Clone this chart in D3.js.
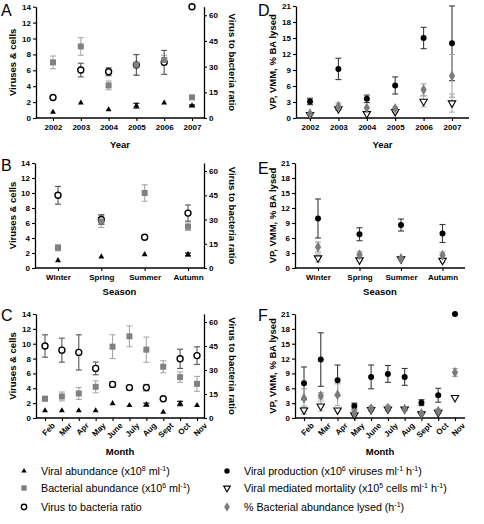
<!DOCTYPE html>
<html><head><meta charset="utf-8">
<script src="https://cdn.jsdelivr.net/npm/d3@7"></script>
<style>
body{margin:0;background:#fff}
svg{display:block}
text{font-family:"Liberation Sans",Arial,Helvetica,sans-serif}
</style>
</head><body>
<svg id="c" width="484" height="524"></svg>
<script>
// ---------- categories ----------
const yearCats = ["2002","2003","2004","2005","2006","2007"];
const seasonCats = ["Winter","Spring","Summer","Autumn"];
const monthCats = ["Feb","Mar","Apr","May","June","July","Aug","Sept","Oct","Nov"];

// ---------- tick labels ----------
const leftTicksAbund = [0,2,4,6,8,10,12,14];
const rightTicksRatio = [0,15,30,45,60];
const leftTicksRate = [0,3,6,9,12,15,18,21];

// ---------- Panel A (years) ----------
const yrViralAbund = [0.75,1.9,1.05,1.55,1.9,1.55];
const yrViralAbundErr = [0,0,0,0.3,0,0.1];
const yrBactAbund = [7.0,9.0,4.1,6.7,7.3,2.6];
const yrBactAbundErr = [0.8,1.1,0.55,1.3,0.6,0];
const yrRatio = [12,28,27,31,32.5,65];
const yrRatioErr = [0,4,2.3,6,7,0];

// ---------- Panel D (years) ----------
const yrVP = [3.1,9.2,3.6,6.1,15.0,14.0];
const yrVPErr = [0.6,2.0,0.7,1.6,2.0,7.0];
const yrVMM = [0.6,1.7,0.8,1.2,3.1,2.8];
const yrVMMErr = [0,0.3,0,0.2,1.0,1.7];
const yrBAL = [0.8,2.2,1.9,1.8,5.3,7.9];
const yrBALErr = [0.2,0.6,0,0.3,1.1,4.0];

// ---------- Panel B (seasons) ----------
const ssViralAbund = [1.0,1.5,1.8,1.8];
const ssViralAbundErr = [0,0,0,0.2];
const ssBactAbund = [2.7,6.2,10.0,5.5];
const ssBactAbundErr = [0.4,0.8,1.1,0.5];
const ssRatio = [45,30,19,34];
const ssRatioErr = [5.5,3,1,5];

// ---------- Panel E (seasons) ----------
const ssVP = [9.9,6.75,8.6,6.9];
const ssVPErr = [3.9,1.3,1.2,1.8];
const ssVMM = [2.0,1.6,1.8,1.5];
const ssVMMErr = [0.8,0.3,0.2,0.4];
const ssBAL = [4.2,2.65,1.9,2.55];
const ssBALErr = [1.0,0.6,0.2,0.6];

// ---------- Panel C (months) ----------
const moViralAbund = [1.0,1.0,1.0,1.0,1.95,1.7,1.8,0.8,1.95,1.7];
const moViralAbundErr = [0,0,0,0,0,0,0.2,0,0.3,0];
const moBactAbund = [2.6,2.9,3.3,4.2,9.6,11.0,9.2,6.9,5.5,4.6];
const moBactAbundErr = [0.3,0.6,0.8,0.8,1.6,1.4,1.7,0.8,0.7,1.0];
const moRatio = [45,42.4,41,31,21,19,19,12,37,39];
const moRatioErr = [7,7.5,11,4,1.5,1.5,2,0,6,5.5];

// ---------- Panel F (months) ----------
const moVP = [7.0,11.8,7.6,2.4,8.3,8.9,8.3,3.1,4.6,21.0];
const moVPErr = [3.3,5.4,3.1,0.6,2.4,1.7,1.7,0.6,1.4,0];
const moVMM = [1.6,2.4,1.6,0.6,1.7,1.8,1.8,0.8,1.1,4.1];
const moVMMErr = [0.8,1.0,0.3,0.8,0.3,0.3,0.2,0,0.2,0];
const moBAL = [4.0,4.5,4.7,1.1,1.9,2.0,1.8,0.9,1.4,9.2];
const moBALErr = [1.9,0.6,2.2,0.5,0.5,0.6,0.3,0.2,0.4,0.8];

// ---------- legend ----------
const legendLeft = [
  {mark:"tri", parts:[["Viral abundance (x10",0],["8",1],[" ml",0],["-1",1],[")",0]]},
  {mark:"sq",  parts:[["Bacterial abundance (x10",0],["6",1],[" ml",0],["-1",1],[")",0]]},
  {mark:"circ",parts:[["Virus to bacteria ratio",0]]}
];
const legendRight = [
  {mark:"dot", parts:[["Viral production (x10",0],["6",1],[" viruses ml",0],["-1",1],[" h",0],["-1",1],[")",0]]},
  {mark:"tdown",parts:[["Viral mediated mortality (x10",0],["5",1],[" cells ml",0],["-1",1],[" h",0],["-1",1],[")",0]]},
  {mark:"dia", parts:[["% Bacterial abundance lysed (h",0],["-1",1],[")",0]]}
];

// ---------- styles ----------
const markStyle = {
  tri:  {err:"#000"},
  sq:   {err:"#a8a8a8"},
  circ: {err:"#555"},
  dot:  {err:"#3a3a3a"},
  tdown:{err:"#b0b0b0"},
  dia:  {err:"#a8a8a8"}
};

const svg = d3.select("#c");

function drawMark(g, type, cx, cy, scale) {
  const k = scale || 1;
  if (type === "tri") {
    g.append("path").attr("d", d3.symbol().type(d3.symbolTriangle).size(15 * k)())
      .attr("transform", `translate(${cx},${cy})`).attr("fill", "#000");
  } else if (type === "sq") {
    g.append("path").attr("d", d3.symbol().type(d3.symbolSquare).size(36 * k)())
      .attr("transform", `translate(${cx},${cy})`).attr("fill", "#808080");
  } else if (type === "circ") {
    g.append("circle").attr("cx", cx).attr("cy", cy).attr("r", 3.0 * Math.sqrt(k))
      .attr("fill", "#fff").attr("stroke", "#000").attr("stroke-width", 1.4);
  } else if (type === "dot") {
    g.append("circle").attr("cx", cx).attr("cy", cy).attr("r", 3 * Math.sqrt(k))
      .attr("fill", "#000");
  } else if (type === "tdown") {
    g.append("path").attr("d", d3.symbol().type(d3.symbolTriangle).size(24 * k)())
      .attr("transform", `translate(${cx},${cy}) rotate(180)`)
      .attr("fill", "#fff").attr("stroke", "#000").attr("stroke-width", 1.1);
  } else if (type === "dia") {
    g.append("path").attr("d", d3.symbol().type(d3.symbolDiamond).size(34 * k)())
      .attr("transform", `translate(${cx},${cy})`).attr("fill", "#7c7c7c");
  }
}

function drawPanel(o) {
  const g = svg.append("g");
  const x = d3.scalePoint().domain(o.cats).range([o.p0, o.p1]);
  const yL = d3.scaleLinear().domain([0, o.leftMax]).range([o.yBot, o.yTop]);
  const yR = o.rightMax ? d3.scaleLinear().domain([0, o.rightMax]).range([o.yBot, o.yTop]) : null;

  const axL = g.append("g").attr("transform", `translate(${o.x0},0)`)
    .call(d3.axisLeft(yL).tickValues(o.leftTicks).tickSize(3).tickSizeOuter(0).tickPadding(2));
  let axR = null;
  if (yR) {
    axR = g.append("g").attr("transform", `translate(${o.x1},0)`)
      .call(d3.axisRight(yR).tickValues(o.rightTicks).tickSize(3).tickSizeOuter(0).tickPadding(2));
  }
  const axX = g.append("g").attr("transform", `translate(0,${o.yBot})`)
    .call(d3.axisBottom(x).tickSize(3).tickSizeOuter(0).tickPadding(3));
  axX.select(".domain").remove();
  g.append("line").attr("x1", o.x0).attr("x2", o.x1).attr("y1", o.yBot).attr("y2", o.yBot)
    .attr("stroke", "#000").attr("stroke-width", 1.3);

  [axL, axR, axX].forEach(a => {
    if (!a) return;
    a.selectAll(".domain").attr("stroke", "#000").attr("stroke-width", 1.3);
    a.selectAll(".tick line").attr("stroke", "#000").attr("stroke-width", 1.1);
    a.selectAll("text").attr("font-size", "8px").attr("font-weight", "bold")
      .attr("font-family", '"Liberation Sans",Arial,sans-serif').attr("fill", "#000");
  });
  if (o.rotated) {
    axX.selectAll("text").attr("text-anchor", "end")
      .attr("transform", "translate(3,1) rotate(-45)").attr("dy", "0.5em").attr("dx", "0");
  }

  g.append("text").attr("x", o.lx).attr("y", o.ly).attr("font-size", "16px").text(o.letter);

  const cy = (o.yTop + o.yBot) / 2;
  g.append("text").attr("transform", `translate(${o.ltx},${cy}) rotate(-90)`)
    .attr("text-anchor", "middle").attr("font-size", "9.5px").attr("font-weight", "bold")
    .text(o.leftTitle);
  if (o.rightTitle) {
    g.append("text").attr("transform", `translate(${o.rtx},${cy}) rotate(90)`)
      .attr("text-anchor", "middle").attr("font-size", "9.5px").attr("font-weight", "bold")
      .text(o.rightTitle);
  }
  g.append("text").attr("x", (o.x0 + o.x1) / 2).attr("y", o.xty)
    .attr("text-anchor", "middle").attr("font-size", "9.5px").attr("font-weight", "bold")
    .text(o.xTitle);

  const eg = g.append("g");
  o.series.forEach(s => {
    const y = s.axis === "R" ? yR : yL;
    s.vals.forEach((v, i) => {
      const e = s.errs[i];
      if (!e) return;
      const cx = x(o.cats[i]);
      const lo = Math.max(0, v - e), hi = v + e;
      const col = markStyle[s.mark].err;
      eg.append("line").attr("x1", cx).attr("x2", cx).attr("y1", y(lo)).attr("y2", y(hi))
        .attr("stroke", col).attr("stroke-width", 1.1);
      [hi, lo].forEach(val => {
        if (val <= 0) return;
        eg.append("line").attr("x1", cx - 3).attr("x2", cx + 3).attr("y1", y(val)).attr("y2", y(val))
          .attr("stroke", col).attr("stroke-width", 1.1);
      });
    });
  });
  const mg = g.append("g");
  o.drawOrder.forEach(idx => {
    const s = o.series[idx];
    const y = s.axis === "R" ? yR : yL;
    s.vals.forEach((v, i) => drawMark(mg, s.mark, x(o.cats[i]), y(v)));
  });
}

const leftCommon = {leftMax:14, leftTicks:leftTicksAbund, rightMax:65, rightTicks:rightTicksRatio,
  leftTitle:"Viruses & cells", rightTitle:"Virus to bacteria ratio", ltx:16, rtx:229, drawOrder:[2,1,0]};
const rightCommon = {leftMax:21, leftTicks:leftTicksRate, leftTitle:"VP, VMM, % BA lysed", ltx:276, drawOrder:[0,1,2]};

drawPanel(Object.assign({}, leftCommon, {letter:"A", lx:1, ly:16, x0:36, x1:204, yTop:6.7, yBot:118,
  p0:53, p1:192, cats:yearCats, xTitle:"Year", xty:148,
  series:[{vals:yrViralAbund, errs:yrViralAbundErr, axis:"L", mark:"tri"},
          {vals:yrBactAbund, errs:yrBactAbundErr, axis:"L", mark:"sq"},
          {vals:yrRatio, errs:yrRatioErr, axis:"R", mark:"circ"}]}));

drawPanel(Object.assign({}, rightCommon, {letter:"D", lx:258, ly:16, x0:296, x1:469, yTop:6, yBot:118,
  p0:310, p1:452, cats:yearCats, xTitle:"Year", xty:148,
  series:[{vals:yrVP, errs:yrVPErr, axis:"L", mark:"dot"},
          {vals:yrVMM, errs:yrVMMErr, axis:"L", mark:"tdown"},
          {vals:yrBAL, errs:yrBALErr, axis:"L", mark:"dia"}]}));

drawPanel(Object.assign({}, leftCommon, {letter:"B", lx:1, ly:171, x0:35, x1:204, yTop:163, yBot:268,
  p0:58, p1:188, cats:seasonCats, xTitle:"Season", xty:295,
  series:[{vals:ssViralAbund, errs:ssViralAbundErr, axis:"L", mark:"tri"},
          {vals:ssBactAbund, errs:ssBactAbundErr, axis:"L", mark:"sq"},
          {vals:ssRatio, errs:ssRatioErr, axis:"R", mark:"circ"}]}));

drawPanel(Object.assign({}, rightCommon, {letter:"E", lx:258, ly:174, x0:295, x1:465, yTop:163, yBot:268,
  p0:318, p1:442.5, cats:seasonCats, xTitle:"Season", xty:295,
  series:[{vals:ssVP, errs:ssVPErr, axis:"L", mark:"dot"},
          {vals:ssVMM, errs:ssVMMErr, axis:"L", mark:"tdown"},
          {vals:ssBAL, errs:ssBALErr, axis:"L", mark:"dia"}]}));

drawPanel(Object.assign({}, leftCommon, {letter:"C", lx:1, ly:321, x0:36, x1:204, yTop:314, yBot:418,
  p0:45, p1:197, cats:monthCats, xTitle:"Month", xty:455, rotated:true,
  series:[{vals:moViralAbund, errs:moViralAbundErr, axis:"L", mark:"tri"},
          {vals:moBactAbund, errs:moBactAbundErr, axis:"L", mark:"sq"},
          {vals:moRatio, errs:moRatioErr, axis:"R", mark:"circ"}]}));

drawPanel(Object.assign({}, rightCommon, {letter:"F", lx:258, ly:321, x0:295, x1:465, yTop:314, yBot:418,
  p0:304, p1:455, cats:monthCats, xTitle:"Month", xty:455, rotated:true,
  series:[{vals:moVP, errs:moVPErr, axis:"L", mark:"dot"},
          {vals:moVMM, errs:moVMMErr, axis:"L", mark:"tdown"},
          {vals:moBAL, errs:moBALErr, axis:"L", mark:"dia"}]}));

function drawLegend(items, mx, tx, rows) {
  const g = svg.append("g");
  items.forEach((it, i) => {
    const by = rows[i];
    drawMark(g, it.mark, mx, by - 4, 0.8);
    const t = g.append("text").attr("x", tx).attr("y", by).attr("font-size", "10.7px").attr("fill", "#000");
    let raised = false;
    it.parts.forEach(([s, sup]) => {
      const sp = t.append("tspan").text(s);
      if (sup && !raised) { sp.attr("dy", -4).attr("font-size", "7px"); raised = true; }
      else if (sup && raised) { sp.attr("font-size", "7px"); }
      else if (!sup && raised) { sp.attr("dy", 4); raised = false; }
    });
  });
}
const legendRows = [475, 492, 511];
drawLegend(legendLeft, 24, 41, legendRows);
drawLegend(legendRight, 227, 244, legendRows);
</script>
</body></html>
